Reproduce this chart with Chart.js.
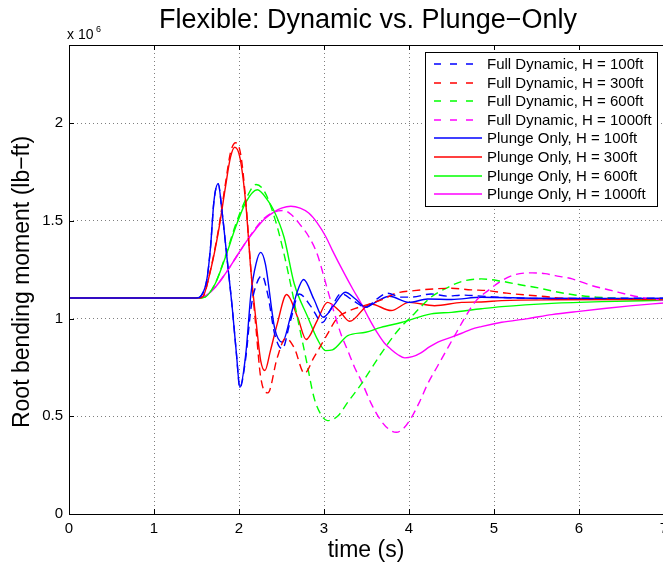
<!DOCTYPE html>
<html>
<head>
<meta charset="utf-8">
<script src="https://cdn.jsdelivr.net/npm/chart.js@4/dist/chart.umd.min.js"></script>
<style>
  html, body { margin: 0; padding: 0; background: #fff; overflow: hidden; }
  #wrap { width: 680px; height: 564px; }
</style>
</head>
<body>
<div id="wrap"><canvas id="c" width="680" height="564"></canvas></div>
<script>
// ---------- DATA (values in units of 10^6 lb-ft, time in s) ----------
const chartTitle = 'Flexible: Dynamic vs. Plunge\u2212Only';
const xAxisTitle = 'time (s)';
const yAxisTitle = 'Root bending moment (lb\u2212ft)';
const xTickValues = [0, 1, 2, 3, 4, 5, 6, 7];
const yTickValues = [0, 0.5, 1, 1.5, 2];
const yTickLabels = ['0', '0.5', '1', '1.5', '2'];

const seriesLabels = [
  'Full Dynamic, H = 100ft', 'Full Dynamic, H = 300ft', 'Full Dynamic, H = 600ft', 'Full Dynamic, H = 1000ft',
  'Plunge Only, H = 100ft', 'Plunge Only, H = 300ft', 'Plunge Only, H = 600ft', 'Plunge Only, H = 1000ft'
];

// Full Dynamic, H = 100ft
const tFull100 = [0, 1.5, 1.56, 1.62, 1.665, 1.705, 1.755, 1.8, 1.862, 1.92, 1.97, 2.01, 2.08, 2.14, 2.2, 2.27, 2.34, 2.42, 2.51, 2.6, 2.71, 2.85, 2.98, 3.08, 3.2, 3.35, 3.49, 3.62, 3.75, 3.9, 4.03, 4.26, 4.45, 4.62, 4.85, 5.2, 5.6, 6.3, 7.0];
const vFull100 = [1.105, 1.105, 1.12, 1.195, 1.365, 1.6, 1.69, 1.55, 1.297, 1.058, 0.819, 0.645, 0.8, 1.05, 1.17, 1.22, 1.12, 0.92, 0.845, 0.98, 1.126, 1.06, 0.98, 1.05, 1.127, 1.09, 1.058, 1.1, 1.13, 1.11, 1.11, 1.126, 1.115, 1.12, 1.115, 1.106, 1.103, 1.104, 1.104];

// Full Dynamic, H = 300ft
const tFull300 = [0, 1.5, 1.57, 1.665, 1.76, 1.84, 1.9, 1.96, 2.02, 2.08, 2.14, 2.2, 2.255, 2.34, 2.45, 2.55, 2.65, 2.77, 2.88, 3.04, 3.15, 3.3, 3.5, 3.7, 3.85, 4.06, 4.3, 4.5, 4.73, 4.93, 5.15, 5.4, 5.6, 5.8, 6.3, 7.0];
const vFull300 = [1.105, 1.105, 1.11, 1.25, 1.46, 1.69, 1.85, 1.90, 1.84, 1.6, 1.25, 0.95, 0.7, 0.62, 0.8, 0.9, 0.85, 0.72, 0.8, 0.92, 1.0, 1.04, 1.07, 1.1, 1.13, 1.143, 1.152, 1.155, 1.147, 1.143, 1.13, 1.12, 1.113, 1.104, 1.1, 1.1];

// Full Dynamic, H = 600ft
const tFull600 = [0, 1.5, 1.6, 1.72, 1.84, 1.96, 2.08, 2.2, 2.3, 2.43, 2.53, 2.61, 2.69, 2.8, 2.88, 2.95, 3.04, 3.16, 3.28, 3.44, 3.55, 3.67, 3.87, 4.06, 4.26, 4.46, 4.62, 4.85, 5.09, 5.32, 5.52, 5.72, 5.95, 6.2, 6.5, 7.0];
const vFull600 = [1.105, 1.105, 1.11, 1.18, 1.32, 1.48, 1.61, 1.686, 1.65, 1.5, 1.33, 1.17, 1.0, 0.77, 0.6, 0.52, 0.478, 0.5, 0.572, 0.666, 0.74, 0.82, 0.939, 1.024, 1.11, 1.16, 1.19, 1.203, 1.191, 1.172, 1.157, 1.138, 1.121, 1.11, 1.103, 1.1];

// Full Dynamic, H = 1000ft
const tFull1000 = [0, 1.5, 1.6, 1.72, 1.84, 1.96, 2.08, 2.2, 2.3, 2.41, 2.53, 2.62, 2.72, 2.82, 2.92, 3.04, 3.12, 3.2, 3.28, 3.36, 3.44, 3.55, 3.67, 3.76, 3.85, 3.94, 4.03, 4.12, 4.22, 4.34, 4.46, 4.56, 4.66, 4.79, 4.93, 5.09, 5.25, 5.45, 5.6, 5.72, 5.92, 6.15, 6.39, 6.62, 6.86, 7.0];
const vFull1000 = [1.105, 1.105, 1.115, 1.16, 1.23, 1.31, 1.39, 1.465, 1.515, 1.545, 1.553, 1.53, 1.48, 1.42, 1.33, 1.15, 1.03, 0.92, 0.836, 0.75, 0.68, 0.57, 0.478, 0.435, 0.418, 0.44, 0.495, 0.57, 0.666, 0.76, 0.853, 0.93, 1.007, 1.092, 1.143, 1.194, 1.225, 1.234, 1.23, 1.22, 1.203, 1.169, 1.143, 1.118, 1.1, 1.095];

// Plunge Only, H = 100ft
const tPlunge100 = [0, 1.5, 1.56, 1.62, 1.665, 1.705, 1.755, 1.8, 1.862, 1.92, 1.97, 2.01, 2.08, 2.14, 2.2, 2.255, 2.31, 2.42, 2.51, 2.6, 2.68, 2.76, 2.88, 2.99, 3.12, 3.25, 3.37, 3.49, 3.63, 3.77, 4.0, 4.22, 4.5, 4.85, 5.5, 6.2, 7.0];
const vPlunge100 = [1.105, 1.105, 1.12, 1.195, 1.365, 1.6, 1.69, 1.55, 1.297, 1.058, 0.819, 0.648, 0.819, 1.126, 1.28, 1.339, 1.28, 0.95, 0.879, 1.0, 1.13, 1.2, 1.1, 1.007, 1.07, 1.135, 1.1, 1.058, 1.09, 1.114, 1.083, 1.1, 1.098, 1.109, 1.104, 1.103, 1.104];

// Plunge Only, H = 300ft
const tPlunge300 = [0, 1.5, 1.57, 1.665, 1.76, 1.84, 1.9, 1.95, 2.01, 2.08, 2.14, 2.2, 2.255, 2.305, 2.37, 2.45, 2.56, 2.69, 2.79, 2.92, 3.04, 3.18, 3.3, 3.55, 3.79, 4.0, 4.3, 4.62, 4.85, 5.09, 5.68, 7.0];
const vPlunge300 = [1.105, 1.105, 1.11, 1.246, 1.45, 1.672, 1.826, 1.877, 1.826, 1.587, 1.246, 0.99, 0.785, 0.734, 0.836, 0.973, 1.123, 1.007, 0.893, 0.99, 1.083, 1.04, 0.986, 1.075, 1.041, 1.083, 1.066, 1.083, 1.085, 1.092, 1.096, 1.097];

// Plunge Only, H = 600ft
const tPlunge600 = [0, 1.5, 1.6, 1.72, 1.84, 1.96, 2.08, 2.215, 2.34, 2.41, 2.53, 2.65, 2.81, 2.92, 3.02, 3.1, 3.28, 3.49, 3.67, 3.91, 4.26, 4.5, 4.85, 5.09, 5.68, 6.27, 7.0];
const vPlunge600 = [1.105, 1.105, 1.11, 1.178, 1.314, 1.467, 1.595, 1.659, 1.604, 1.553, 1.416, 1.178, 1.007, 0.896, 0.836, 0.84, 0.913, 0.93, 0.955, 0.98, 1.024, 1.032, 1.05, 1.061, 1.078, 1.087, 1.093];

// Plunge Only, H = 1000ft
const tPlunge1000 = [0, 1.5, 1.6, 1.72, 1.84, 1.96, 2.08, 2.2, 2.3, 2.41, 2.5, 2.61, 2.72, 2.82, 2.92, 3.02, 3.1, 3.24, 3.34, 3.44, 3.53, 3.63, 3.71, 3.79, 3.87, 3.95, 4.04, 4.14, 4.24, 4.34, 4.5, 4.62, 4.73, 4.85, 5.09, 5.4, 5.68, 6.0, 6.27, 6.6, 7.0];
const vPlunge1000 = [1.105, 1.105, 1.115, 1.16, 1.23, 1.31, 1.39, 1.46, 1.51, 1.545, 1.565, 1.575, 1.565, 1.54, 1.49, 1.42, 1.348, 1.23, 1.15, 1.075, 1.0, 0.925, 0.875, 0.842, 0.815, 0.799, 0.805, 0.825, 0.855, 0.88, 0.905, 0.925, 0.945, 0.959, 0.981, 1.0, 1.02, 1.037, 1.05, 1.065, 1.08];

const seriesT = [tFull100, tFull300, tFull600, tFull1000, tPlunge100, tPlunge300, tPlunge600, tPlunge1000];
const seriesV = [vFull100, vFull300, vFull600, vFull1000, vPlunge100, vPlunge300, vPlunge600, vPlunge1000];
const seriesColors = ['#0000ff', '#ff0000', '#00ff00', '#ff00ff', '#0000ff', '#ff0000', '#00ff00', '#ff00ff'];
const seriesDashed = [true, true, true, true, false, false, false, false];

// ---------- CHART ----------
const FONT = '"Liberation Sans", Arial, Helvetica, sans-serif';
const DASH = [8, 5];
const LEGEND_DASH = [7, 9];

const datasets = seriesLabels.map((lab, i) => ({
  label: lab,
  data: seriesT[i].map((t, k) => ({ x: t, y: seriesV[i][k] })),
  borderColor: seriesColors[i],
  backgroundColor: seriesColors[i],
  borderWidth: 1.4,
  borderDash: seriesDashed[i] ? DASH : [],
  pointRadius: 0,
  fill: false,
  cubicInterpolationMode: 'monotone'
}));

const matlabDecor = {
  id: 'matlabDecor',
  afterDatasetsDraw(chart) {
    const { ctx, chartArea: a, scales: { x, y } } = chart;
    ctx.save();
    // axes box
    ctx.strokeStyle = '#000';
    ctx.lineWidth = 1;
    ctx.setLineDash([]);
    ctx.strokeRect(Math.round(a.left) + 0.5, Math.round(a.top) + 0.5, Math.round(a.right - a.left), Math.round(a.bottom - a.top));
    // inward ticks
    ctx.beginPath();
    xTickValues.forEach(v => {
      const px = Math.round(x.getPixelForValue(v)) + 0.5;
      ctx.moveTo(px, a.bottom); ctx.lineTo(px, a.bottom - 5);
      ctx.moveTo(px, a.top); ctx.lineTo(px, a.top + 5);
    });
    yTickValues.forEach(v => {
      const py = Math.round(y.getPixelForValue(v)) + 0.5;
      ctx.moveTo(a.left, py); ctx.lineTo(a.left + 5, py);
    });
    ctx.stroke();

    // title
    ctx.fillStyle = '#000';
    ctx.textAlign = 'center';
    ctx.textBaseline = 'alphabetic';
    ctx.font = '27px ' + FONT;
    ctx.fillText(chartTitle, 368, 28);
    // x axis title
    ctx.font = '23px ' + FONT;
    ctx.fillText(xAxisTitle, 366, 557);
    // y axis title
    ctx.save();
    ctx.translate(29, 282);
    ctx.rotate(-Math.PI / 2);
    ctx.fillText(yAxisTitle, 0, 0);
    ctx.restore();
    // exponent
    ctx.textAlign = 'left';
    ctx.font = '14px ' + FONT;
    ctx.fillText('x 10', 67, 39);
    ctx.font = '9px ' + FONT;
    ctx.fillText('6', 96, 32);

    // legend
    const L = 425, T = 52, R = 657, B = 206;
    ctx.fillStyle = '#fff';
    ctx.fillRect(L, T, R - L, B - T);
    ctx.strokeStyle = '#000';
    ctx.lineWidth = 1;
    ctx.strokeRect(L + 0.5, T + 0.5, R - L, B - T);
    ctx.font = '15px ' + FONT;
    ctx.textBaseline = 'middle';
    seriesLabels.forEach((lab, i) => {
      const yy = Math.round(64 + i * 18.6);
      ctx.strokeStyle = seriesColors[i];
      ctx.lineWidth = 1.4;
      ctx.setLineDash(seriesDashed[i] ? LEGEND_DASH : []);
      ctx.beginPath();
      ctx.moveTo(434, yy);
      ctx.lineTo(482, yy);
      ctx.stroke();
      ctx.setLineDash([]);
      ctx.fillStyle = '#000';
      ctx.fillText(lab, 487, yy + 1);
    });
    ctx.restore();
  }
};

new Chart(document.getElementById('c'), {
  type: 'line',
  data: { datasets },
  plugins: [matlabDecor],
  options: {
    responsive: false,
    animation: false,
    events: [],
    layout: { padding: { left: 0, top: 45, right: 16, bottom: 0 } },
    plugins: { legend: { display: false }, title: { display: false }, tooltip: { enabled: false } },
    scales: {
      x: {
        type: 'linear', min: 0, max: 7,
        afterFit(s) { s.height = 50; },
        afterBuildTicks(s) { s.ticks = xTickValues.map(v => ({ value: v })); },
        ticks: { color: '#000', font: { family: FONT, size: 15 }, padding: 6, maxRotation: 0, autoSkip: false, callback: v => String(v) },
        grid: { color: 'rgba(0,0,0,0.5)', lineWidth: 1, drawTicks: false },
        border: { display: false, dash: [1, 3] }
      },
      y: {
        type: 'linear', min: 0, max: 2.4,
        afterFit(s) { s.width = 69; },
        afterBuildTicks(s) { s.ticks = yTickValues.map(v => ({ value: v })); },
        ticks: { color: '#000', font: { family: FONT, size: 15 }, padding: 6, autoSkip: false,
          callback: (v) => { const k = yTickValues.indexOf(v); return k >= 0 ? yTickLabels[k] : ''; } },
        grid: { color: 'rgba(0,0,0,0.5)', lineWidth: 1, drawTicks: false },
        border: { display: false, dash: [1, 3] }
      }
    }
  }
});
</script>
</body>
</html>
